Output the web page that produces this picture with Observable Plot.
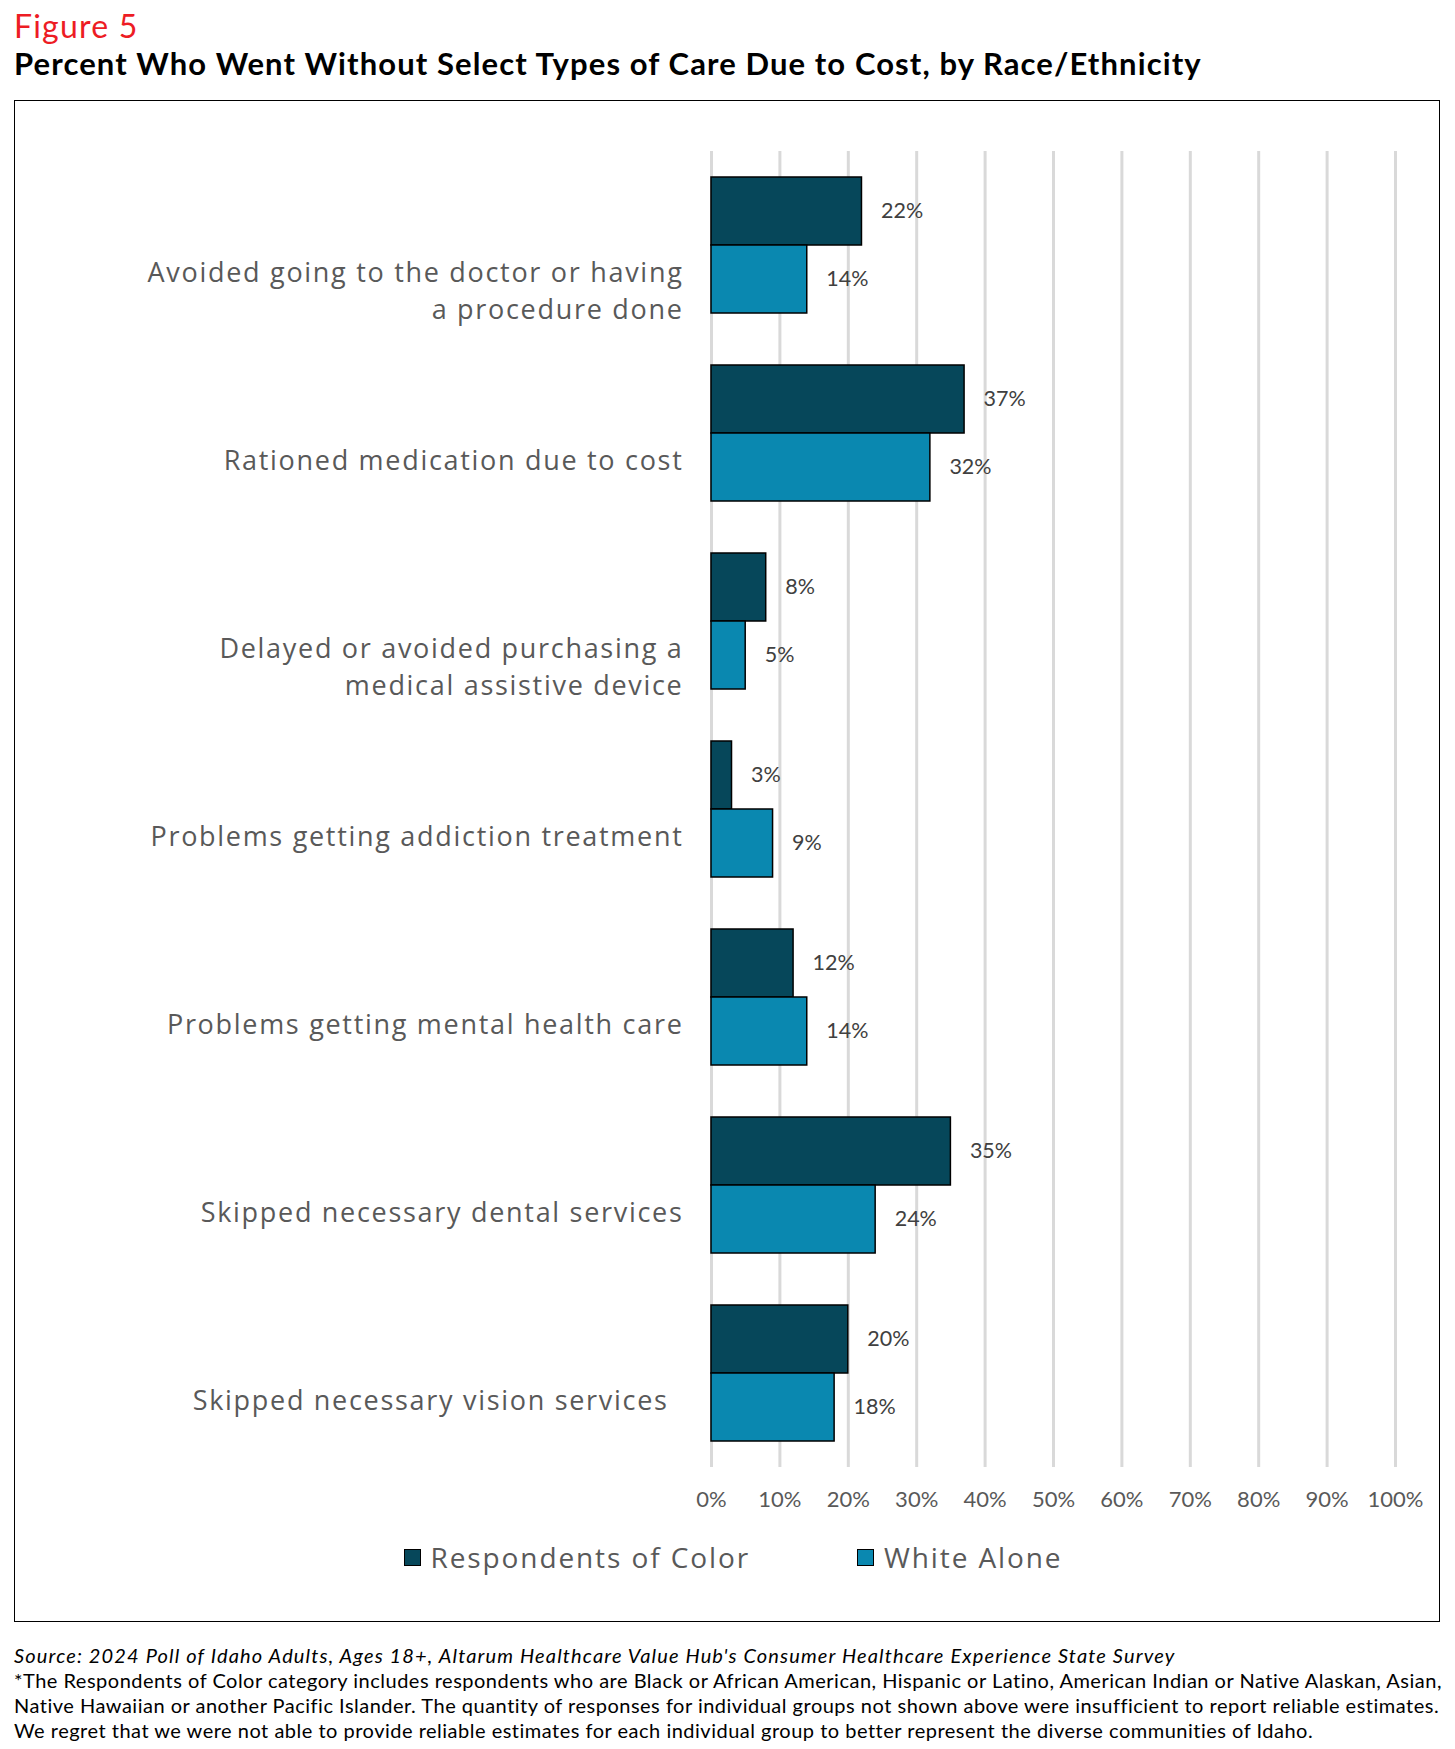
<!DOCTYPE html>
<html><head><meta charset="utf-8">
<script src="https://cdn.jsdelivr.net/npm/d3@7"></script>
<script src="https://cdn.jsdelivr.net/npm/@observablehq/plot@0.6"></script>
<style>
body{margin:0;background:#fff;width:1455px;height:1749px;position:relative;font-family:Lato,sans-serif}
#fig{position:absolute;left:14px;top:7px;font-size:32px;line-height:38px;letter-spacing:1.2px;color:#ED1C24;white-space:nowrap}
#title{position:absolute;left:14px;top:44px;font-size:31px;line-height:38px;letter-spacing:1.1px;font-weight:bold;color:#000;white-space:nowrap}
#box{position:absolute;left:14px;top:100px;width:1424px;height:1520px;border:1px solid #000}
#chart{position:absolute;left:0;top:0}
#legend{position:absolute;left:6px;top:1436px;width:1424px;height:40px;display:flex;justify-content:center;align-items:center;gap:107px;font-family:"Open Sans",sans-serif;font-size:28px;letter-spacing:1.9px;color:#595959}
.item{display:flex;align-items:center;gap:10px;white-space:nowrap}
.sw{width:15px;height:15px;border:1px solid #000;display:inline-block}
#foot{position:absolute;left:14px;top:1643px;width:1440px;font-size:20px;line-height:25px;letter-spacing:0.5px;color:#000}
#foot div{white-space:nowrap}
</style></head>
<body>
<div id="fig">Figure 5</div>
<div id="title">Percent Who Went Without Select Types of Care Due to Cost, by Race/Ethnicity</div>
<div id="box"><div id="chart"></div><div id="legend"></div></div>
<div id="foot">
<div style="font-style:italic;letter-spacing:1.15px">Source: 2024 Poll of Idaho Adults, Ages 18+, Altarum Healthcare Value Hub's Consumer Healthcare Experience State Survey</div>
<div>*The Respondents of Color category includes respondents who are Black or African American, Hispanic or Latino, American Indian or Native Alaskan, Asian,</div>
<div>Native Hawaiian or another Pacific Islander. The quantity of responses for individual groups not shown above were insufficient to report reliable estimates.</div>
<div>We regret that we were not able to provide reliable estimates for each individual group to better represent the diverse communities of Idaho.</div>
</div>
<script>
const categories = [
  "Avoided going to the doctor or having\na procedure done",
  "Rationed medication due to cost",
  "Delayed or avoided purchasing a\nmedical assistive device",
  "Problems getting addiction treatment",
  "Problems getting mental health care",
  "Skipped necessary dental services",
  "Skipped necessary vision services\u00a0\u2009"
];
const series = ["Respondents of Color", "White Alone"];
const colorValues = [22, 37, 8, 3, 12, 35, 20];
const whiteValues = [14, 32, 5, 9, 14, 24, 18];
const xTicks = [0, 10, 20, 30, 40, 50, 60, 70, 80, 90, 100];
const colors = ["#06475A", "#0A88B0"];

const data = categories.flatMap((c, i) => [
  {category: c, series: series[0], value: colorValues[i]},
  {category: c, series: series[1], value: whiteValues[i]}
]);

const chart = Plot.plot({
  width: 1424, height: 1419,
  marginLeft: 696, marginRight: 44, marginTop: 49, marginBottom: 53,
  style: {background: "transparent", fontFamily: "Lato, sans-serif"},
  x: {domain: [0, 100], axis: null},
  y: {domain: series, axis: null, paddingInner: 0, paddingOuter: 0.3735},
  fy: {domain: categories, axis: null, padding: 0},
  color: {domain: series, range: colors},
  marks: [
    Plot.gridX(xTicks, {stroke: "#d9d9d9", strokeOpacity: 1, strokeWidth: 3}),
    Plot.axisX(xTicks, {anchor: "bottom", label: null, tickSize: 0, tickPadding: 24, tickFormat: d => d + "%", fontSize: 22, fill: "#595959"}),
    Plot.barX(data, {x: "value", y: "series", fy: "category", fill: "series", stroke: "#000", strokeWidth: 1.5}),
    Plot.text(data, {x: "value", y: "series", fy: "category", text: d => d.value + "%", textAnchor: "start", dx: 19, fontSize: 21.5, fill: "#404040"}),
    Plot.text(categories, {fy: d => d, text: d => d, frameAnchor: "left", textAnchor: "end", lineAnchor: "top", dx: -28, dy: 11, fontSize: 27, lineHeight: 1.35, fill: "#595959", fontFamily: "Open Sans, sans-serif"})
  ]
});
// widen the category labels' tracking to match the reference typeface
d3.select(chart).selectAll("g").filter(function() {
  const f = this.getAttribute("font-family");
  return f && f.startsWith("Open Sans");
}).style("letter-spacing", "1.7px");
document.getElementById("chart").appendChild(chart);

const legend = document.getElementById("legend");
series.forEach((s, i) => {
  const item = document.createElement("div");
  item.className = "item";
  const sw = document.createElement("span");
  sw.className = "sw";
  sw.style.background = colors[i];
  const t = document.createElement("span");
  t.textContent = s;
  item.appendChild(sw); item.appendChild(t);
  legend.appendChild(item);
});
</script>
</body></html>
